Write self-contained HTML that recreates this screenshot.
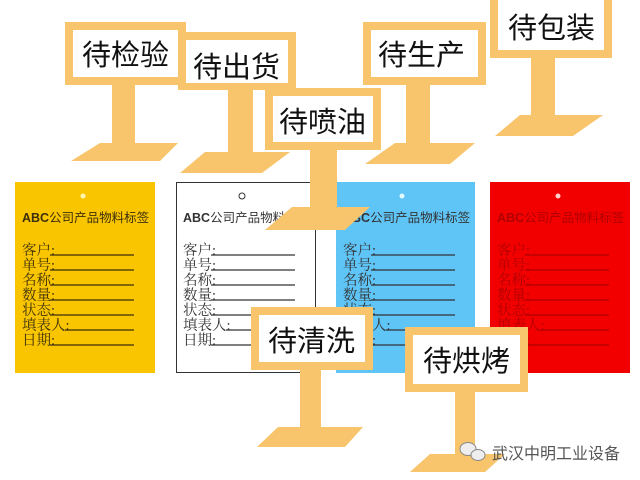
<!DOCTYPE html>
<html><head><meta charset="utf-8"><style>
html,body{margin:0;padding:0;background:#fff;}
svg{display:block;}
.s{font-family:"Liberation Sans","Noto Sans CJK SC",sans-serif;font-size:29px;fill:#111;}
.t{font-family:"Liberation Sans","Noto Sans CJK SC",sans-serif;font-size:12.5px;font-weight:bold;}
.r{font-family:"Liberation Serif","Noto Serif CJK SC",serif;font-size:14.5px;}
</style></head><body>
<svg width="640" height="480" viewBox="0 0 640 480" xmlns="http://www.w3.org/2000/svg">
<defs>
<g id="rows">
<text class="t" x="7" y="40">ABC<tspan font-weight="normal">公司产品物料标签</tspan></text>
<g class="r">
<text x="7" y="73">客户:</text><text x="7" y="88">单号:</text><text x="7" y="103">名称:</text>
<text x="7" y="118">数量:</text><text x="7" y="133">状态:</text><text x="7" y="148">填表人:</text><text x="7" y="163">日期:</text>
</g>
</g>
<g id="lines" stroke-width="1.2">
<line x1="35" y1="73" x2="119" y2="73"/><line x1="35" y1="88" x2="119" y2="88"/><line x1="35" y1="103" x2="119" y2="103"/>
<line x1="35" y1="118" x2="119" y2="118"/><line x1="35" y1="133" x2="119" y2="133"/><line x1="50" y1="148" x2="119" y2="148"/><line x1="35" y1="163" x2="119" y2="163"/>
</g>
</defs>
<g transform="translate(15,182)"><rect width="140" height="191" fill="#f9c500"/><circle cx="68" cy="14" r="2.5" fill="#fff6b0"/><g fill="#3d2f0a"><use href="#rows"/></g><g stroke="#3d2f0a"><use href="#lines"/></g></g>
<g transform="translate(176,182)"><rect x="0.5" y="0.5" width="139" height="190" fill="#fff" stroke="#333"/><circle cx="66" cy="14" r="3" fill="none" stroke="#333"/><g fill="#333"><use href="#rows"/></g><g stroke="#333"><use href="#lines"/></g></g>
<g transform="translate(336,182)"><rect width="139" height="191" fill="#5fc4f6"/><circle cx="66" cy="14" r="2.5" fill="#e0fbff"/><g fill="#333"><use href="#rows"/></g><g stroke="#333"><use href="#lines"/></g></g>
<g transform="translate(490,182)"><rect width="140" height="191" fill="#f20000"/><circle cx="68" cy="14" r="2.5" fill="#ffd0d0"/><g fill="#b00000"><use href="#rows"/></g><g stroke="#b00000"><use href="#lines"/></g></g>

<g fill="#f8c46c">
<rect x="112" y="85" width="23" height="60"/><polygon points="100,143 178,143 160,161 71,161"/>
<rect x="65" y="22" width="121" height="63"/><rect x="73" y="30" width="105" height="47" fill="#fff"/>
<rect x="228" y="90" width="25" height="64"/><polygon points="205,152 290,152 262,173 180,173"/>
<rect x="178" y="32" width="118" height="58"/><rect x="186" y="40" width="102" height="43" fill="#fff"/>
<rect x="406" y="85" width="24" height="60"/><polygon points="395,143 475,143 450,164 365,164"/>
<rect x="363" y="22" width="123" height="63"/><rect x="371" y="30" width="107" height="47" fill="#fff"/>
<rect x="531" y="56" width="24" height="61"/><polygon points="520,115 603,115 573,136 495,136"/>
<rect x="490" y="0" width="122" height="58"/><rect x="498" y="0" width="106" height="50" fill="#fff"/>
<rect x="310" y="148" width="27" height="61"/><polygon points="292,207 370,207 345,230 265,230"/>
<rect x="265" y="88" width="116" height="62"/><rect x="273" y="96" width="100" height="46" fill="#fff"/>
<rect x="300" y="368" width="21" height="61"/><polygon points="278,427 363,427 345,447 257,447"/>
<rect x="251" y="307" width="122" height="63"/><rect x="259" y="315" width="106" height="47" fill="#fff"/>
<rect x="455" y="390" width="20" height="66"/><polygon points="430,454 505,454 485,472 410,472"/>
<rect x="405" y="327" width="123" height="65"/><rect x="413" y="335" width="107" height="49" fill="#fff"/>
</g>
<text class="s" x="82" y="65">待检验</text>
<text class="s" x="193" y="77">待出货</text>
<text class="s" x="378" y="65">待生产</text>
<text class="s" x="508" y="38">待包装</text>
<text class="s" x="279" y="132">待喷油</text>
<text class="s" x="268" y="351">待清洗</text>
<text class="s" x="423" y="371">待烘烤</text>
<g fill="#eee" stroke="#888" stroke-width="1"><ellipse cx="468" cy="449" rx="8" ry="6.5"/><ellipse cx="478" cy="455" rx="7" ry="5.5"/></g>
<text x="492" y="459" font-family="'Liberation Sans','Noto Sans CJK SC',sans-serif" font-size="16" fill="#555">武汉中明工业设备</text>
</svg>
</body></html>
